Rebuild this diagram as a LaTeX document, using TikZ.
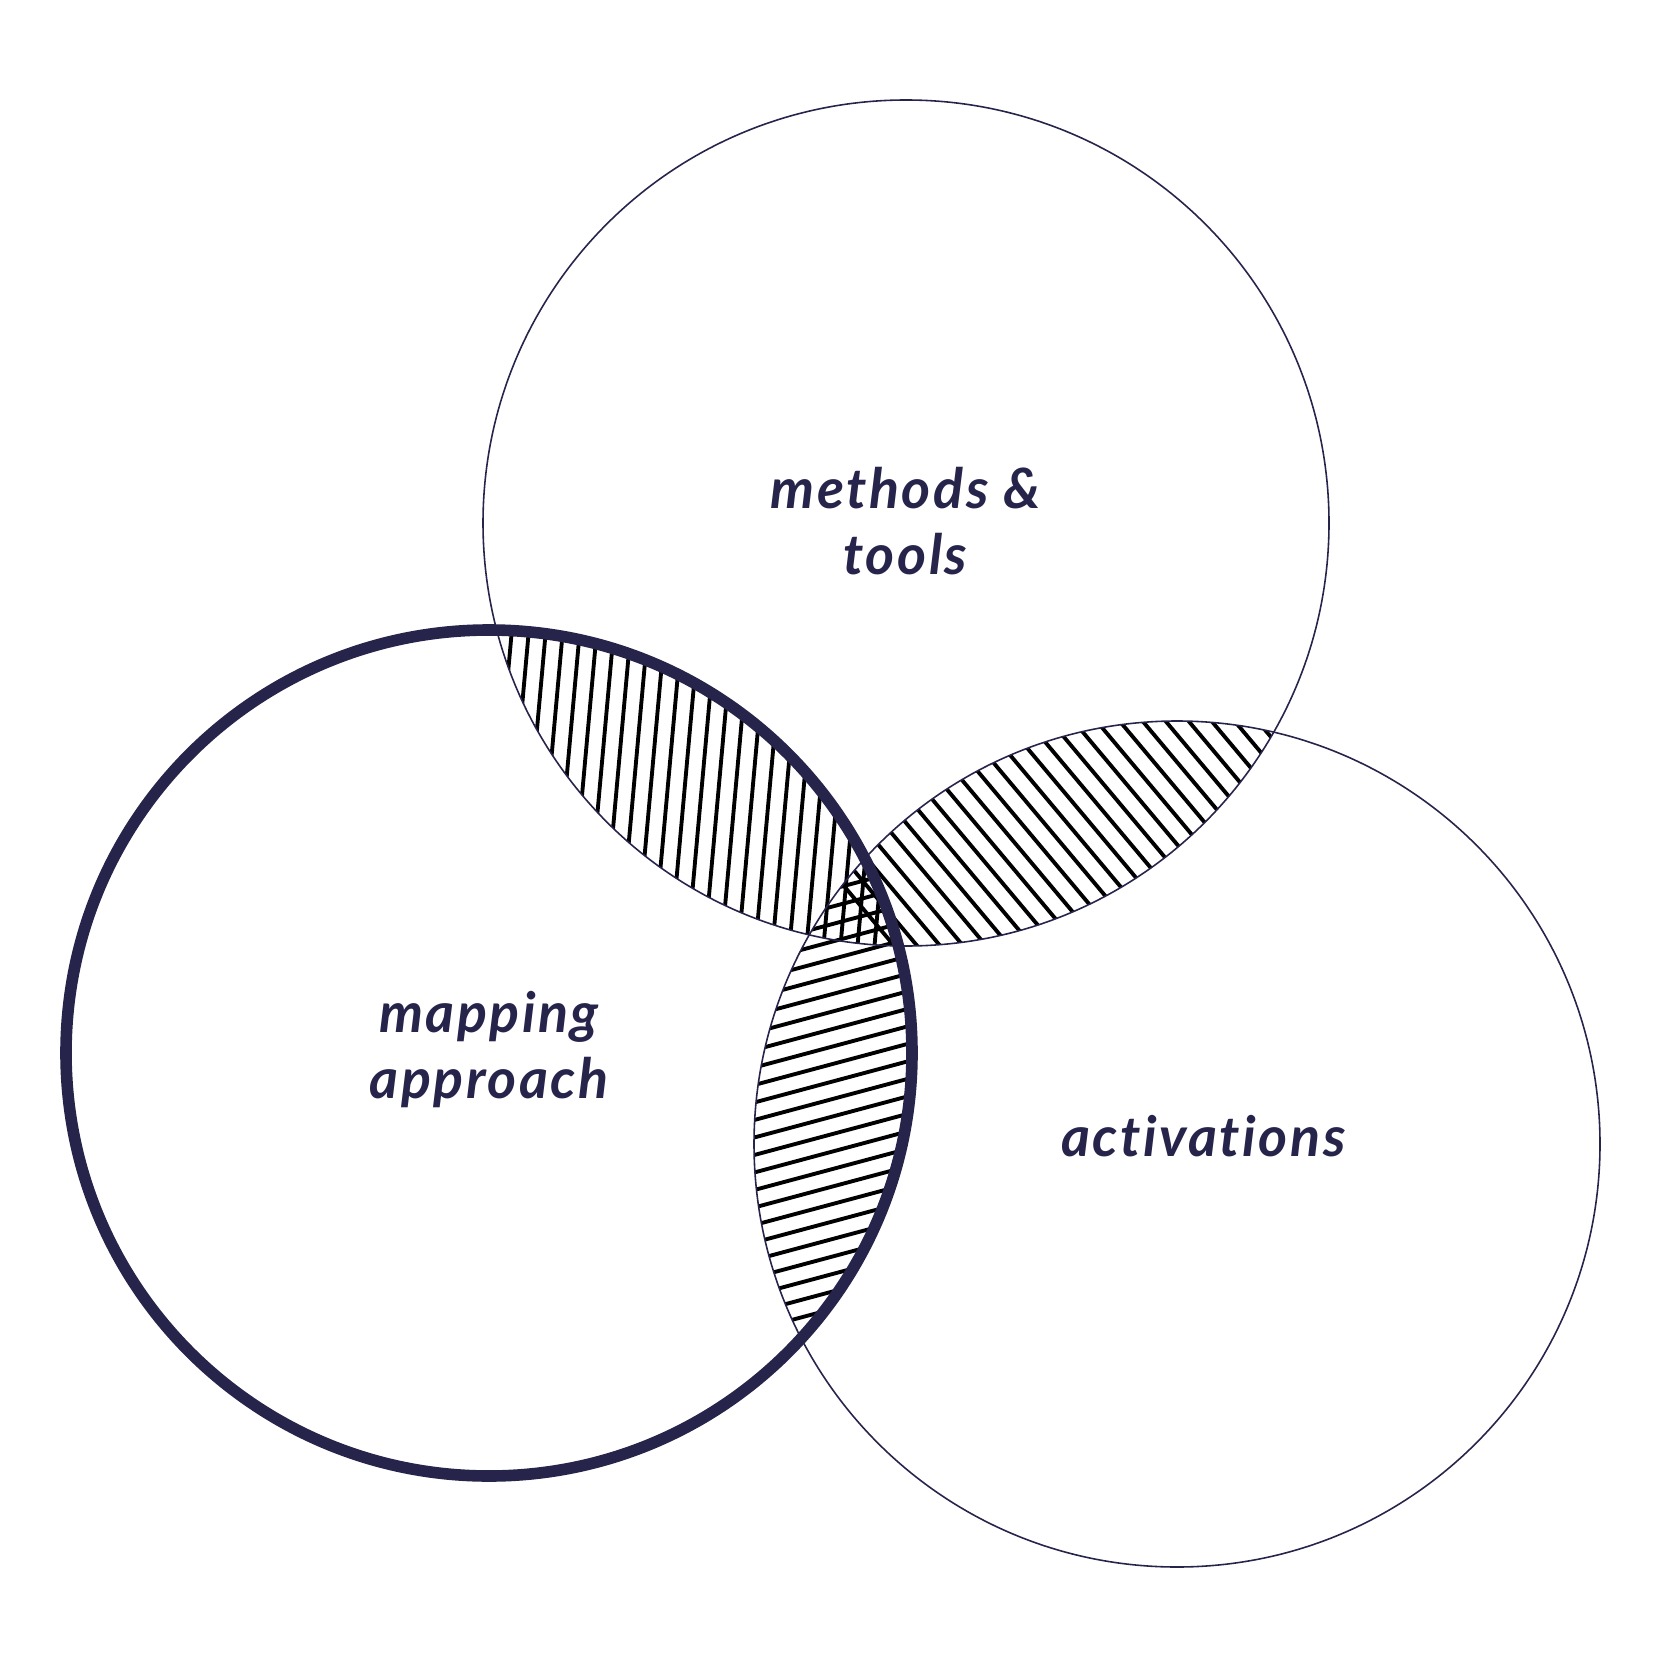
\documentclass[tikz,border=0pt]{standalone}
\usepackage{fontspec}
\setmainfont{Lato}[Ligatures={NoCommon,NoContextual}, LetterSpace=4.5]
\usetikzlibrary{positioning}
\definecolor{ink}{RGB}{38,36,74}

\tikzset{
  venn label/.style={text=ink, inner sep=0pt, align=center,
    font=\fontsize{15.8}{18.6}\selectfont\bfseries\itshape},
  hatch/.style={line width=1.1pt, black},
  thin ring/.style={draw=ink, line width=0.45pt},
  thick ring/.style={draw=ink, line width=3.3pt},
}

\begin{document}
\begin{tikzpicture}[x=0.01cm, y=-0.01cm]
  \useasboundingbox (0,0) rectangle (1667,1667);
  \coordinate (ctools) at (906,523);
  \coordinate (cmap) at (489,1053);
  \coordinate (cact) at (1177,1144);

  % methods & tools with mapping approach
  \begin{scope}
    \clip (ctools) circle (423);
    \clip (cmap) circle (423);
    \foreach \k in {-3,...,28}
      \draw[hatch] (518.2+17*\k,560) -- ++(-38.7,430);
  \end{scope}

  % methods & tools with activations
  \begin{scope}
    \clip (ctools) circle (423);
    \clip (cact) circle (423);
    \foreach \k in {-15,...,14}
      \draw[hatch] (1024.5+23*\k,690) -- ++(276.5,329.5);
  \end{scope}

  % mapping approach with activations
  \begin{scope}
    \clip (cmap) circle (423);
    \clip (cact) circle (423);
    \foreach \k in {-3,...,25}
      \draw[hatch] (740,966.3+17.5*\k) -- ++(200,-53.6);
  \end{scope}

  \draw[thin ring] (ctools) circle (423);
  \draw[thin ring] (cact) circle (423);
  \draw[thick ring] (cmap) circle (423);

  \node[venn label, anchor=base] (tools) at (905.5,574) {methods \&\\tools};
  \node[venn label, anchor=base] (mapping) at (489,1098) {mapping\\approach};
  \node[venn label, anchor=base] (activations) at (1203.5,1156) {activations};
\end{tikzpicture}
\end{document}
